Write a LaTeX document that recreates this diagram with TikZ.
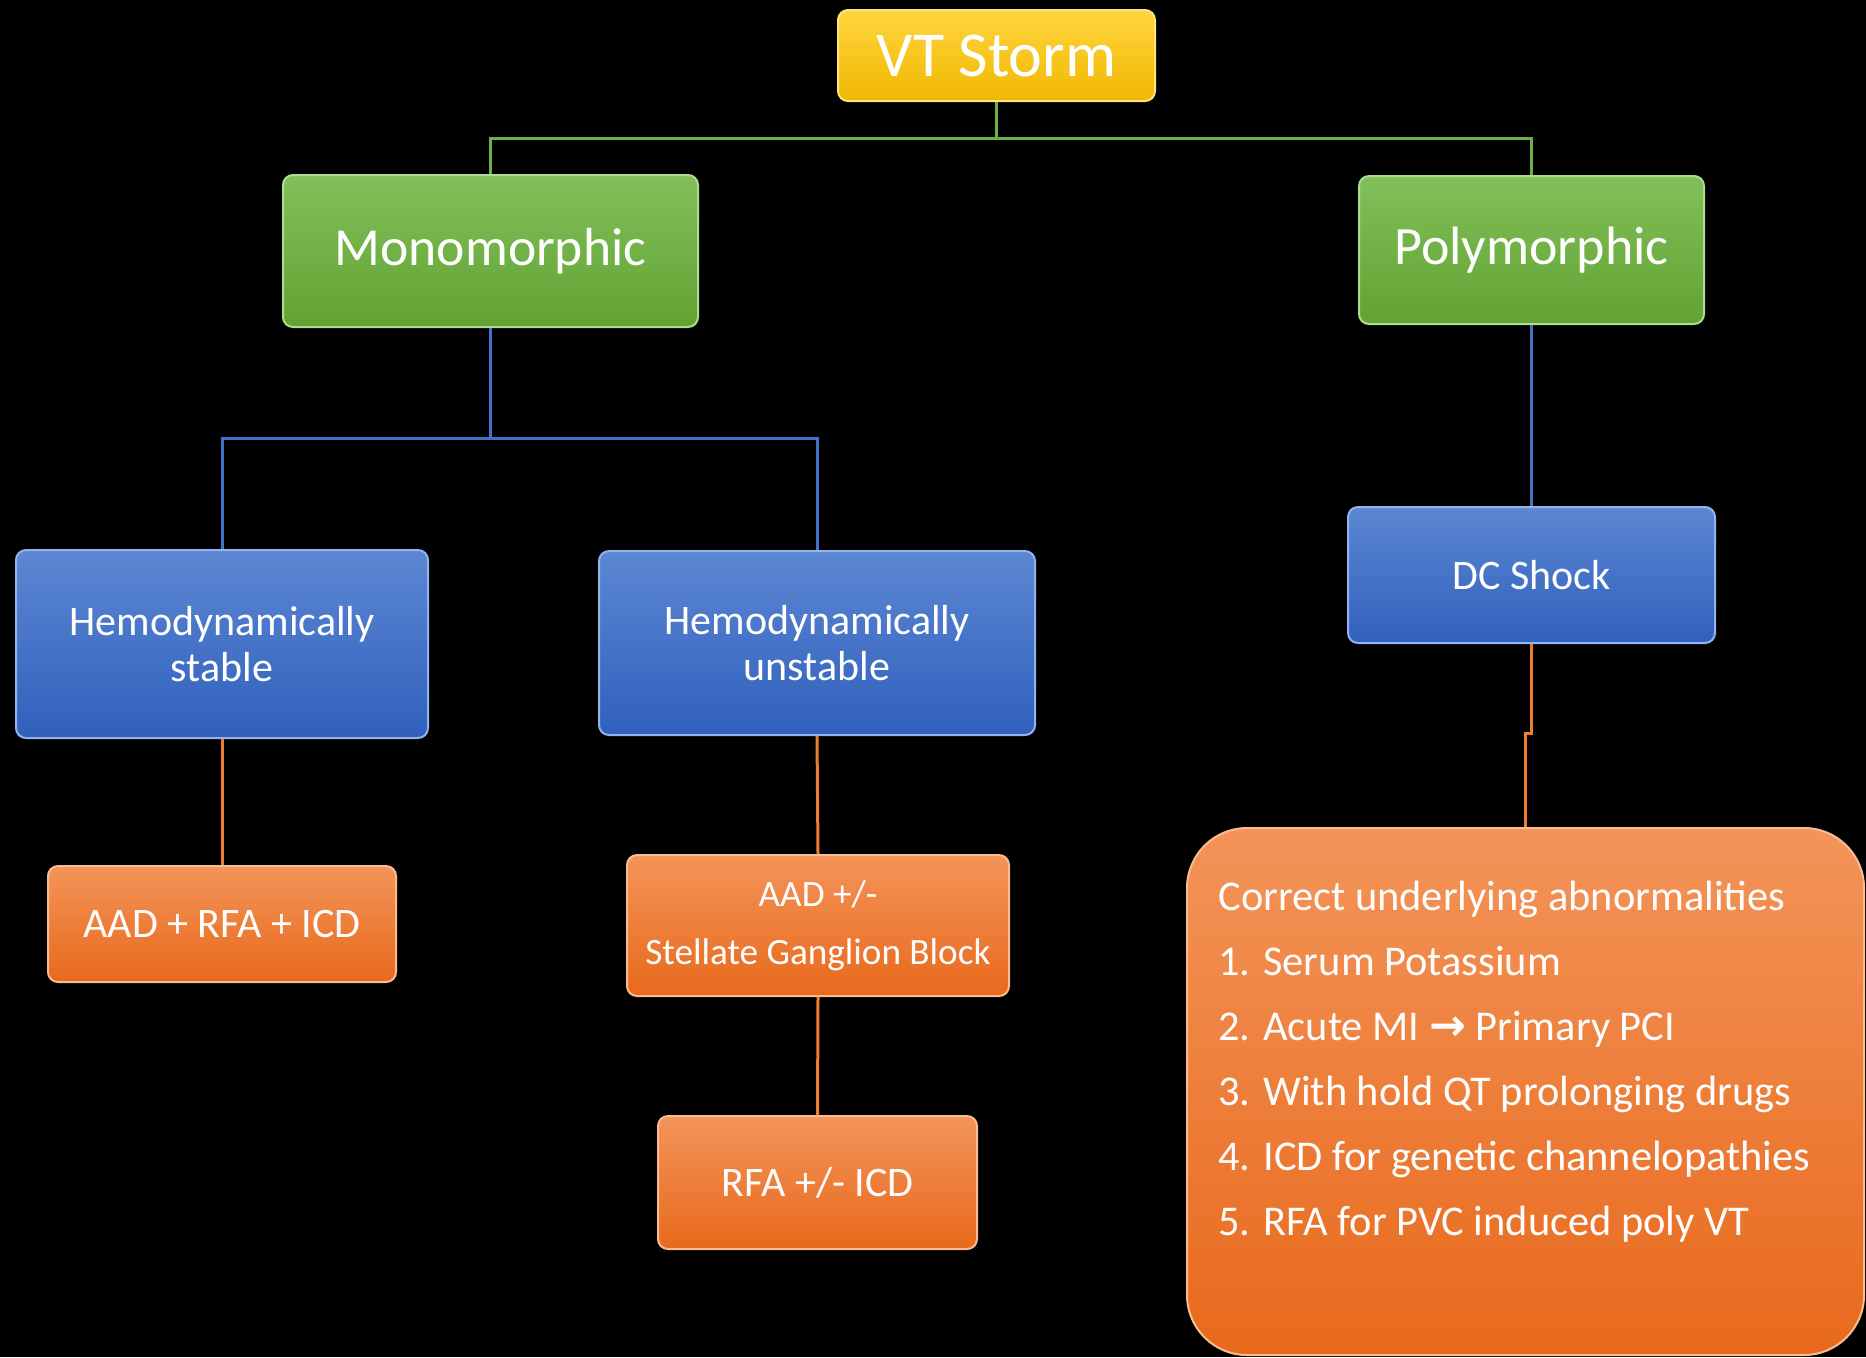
\documentclass[tikz,border=0pt]{standalone}
\usepackage{fontspec}
\setmainfont{Carlito}
\newfontfamily\arrowfont{DejaVu Sans}
\usetikzlibrary{positioning}

\definecolor{ytop}{HTML}{FFD53F}
\definecolor{ybot}{HTML}{F0B800}
\definecolor{yedge}{HTML}{FFE37E}
\definecolor{gtop}{HTML}{82C05A}
\definecolor{gbot}{HTML}{62A232}
\definecolor{gedge}{HTML}{AEDC90}
\definecolor{btop}{HTML}{5C87D3}
\definecolor{bbot}{HTML}{3060BC}
\definecolor{bedge}{HTML}{93B3EC}
\definecolor{otop}{HTML}{F39459}
\definecolor{obot}{HTML}{E8691C}
\definecolor{oedge}{HTML}{F9BC92}
\definecolor{glink}{HTML}{70AD47}
\definecolor{blink}{HTML}{4472C4}
\definecolor{olink}{HTML}{ED7D31}

\begin{document}
\begin{tikzpicture}[x=0.5pt,y=-0.5pt,
		box/.style={rounded corners=5pt,text=white,align=center,inner sep=0pt,line width=1pt},
		yellowbox/.style={box,top color=ytop,bottom color=ybot,draw=yedge},
		greenbox/.style={box,top color=gtop,bottom color=gbot,draw=gedge},
		bluebox/.style={box,top color=btop,bottom color=bbot,draw=bedge},
		orangebox/.style={box,top color=otop,bottom color=obot,draw=oedge},
		link/.style={line width=1.5pt}
		]
		\useasboundingbox (0,0) rectangle (1866,1357);
		\fill[black] (0,0) rectangle (1866,1357);
		
		% top level
		\node[yellowbox,minimum width=158.5pt,minimum height=45.5pt,font=\fontsize{32}{36}\selectfont]
		(vt) at (996.5,55.5) {VT Storm};
		
		\node[greenbox,minimum width=207.5pt,minimum height=76pt,font=\fontsize{26.8}{30}\selectfont]
		(mono) at (490.5,251) {Monomorphic};
		\node[greenbox,minimum width=172.5pt,minimum height=74pt,font=\fontsize{27}{30}\selectfont]
		(poly) at (1531.5,250) {Polymorphic};
		
		% second level
		\node[bluebox,minimum width=206pt,minimum height=94pt,font=\fontsize{21}{23}\selectfont]
		(stable) at (222,644) {Hemodynamically\\stable};
		\node[bluebox,minimum width=218pt,minimum height=92pt,font=\fontsize{21}{23}\selectfont]
		(unstable) at (817,643) {Hemodynamically\\unstable};
		\node[bluebox,minimum width=183.5pt,minimum height=68pt,font=\fontsize{21}{24}\selectfont]
		(dc) at (1531.5,575) {DC Shock};
		
		% treatment
		\node[orangebox,minimum width=174pt,minimum height=58pt,font=\fontsize{21}{24}\selectfont]
		(aad) at (222,924) {AAD + RFA + ICD};
		\node[orangebox,minimum width=191pt,minimum height=70.5pt,font=\fontsize{18.6}{29}\selectfont]
		(sgb) at (818,925.5) {AAD +/-\\Stellate Ganglion Block};
		\node[orangebox,minimum width=159.5pt,minimum height=66.5pt,font=\fontsize{21}{24}\selectfont]
		(rfa) at (817.5,1182.5) {RFA +/- ICD};
		
		\node[orangebox,rounded corners=30pt,minimum width=338.5pt,minimum height=263.5pt]
		(corr) at (1525.5,1091.5) {};
		\node[text=white,align=left,inner sep=0pt,anchor=north west,font=\fontsize{21.2}{32.5}\selectfont]
		(corrtxt) at (1218,881) {Correct underlying abnormalities\\
			1. Serum Potassium\\
			2. Acute MI {\arrowfont\bfseries\fontsize{22}{32.5}\selectfont →} Primary PCI\\
			3. With hold QT prolonging drugs\\
			4. ICD for genetic channelopathies\\
			5. RFA for PVC induced poly VT};
		
		% split points
		\coordinate (gsplit) at (996.5,138);
		\coordinate (bsplit) at (490.5,438);
		\coordinate (djog) at (1525.5,733);
		
		% connectors
		\draw[link,glink] (vt.south) -- (gsplit) -| (mono.north);
		\draw[link,glink] (gsplit) -| (poly.north);
		\draw[link,blink] (mono.south) -- (bsplit) -| (stable.north);
		\draw[link,blink] (bsplit) -| (unstable.north);
		\draw[link,blink] (poly.south) -- (dc.north);
		\draw[link,olink] (stable.south) -- (aad.north);
		\draw[link,olink] (unstable.south) -- (sgb.north);
		\draw[link,olink] (sgb.south) -- (rfa.north);
		\draw[link,olink] (dc.south) |- (djog) -- (corr.north);
	\end{tikzpicture}
\end{document}
